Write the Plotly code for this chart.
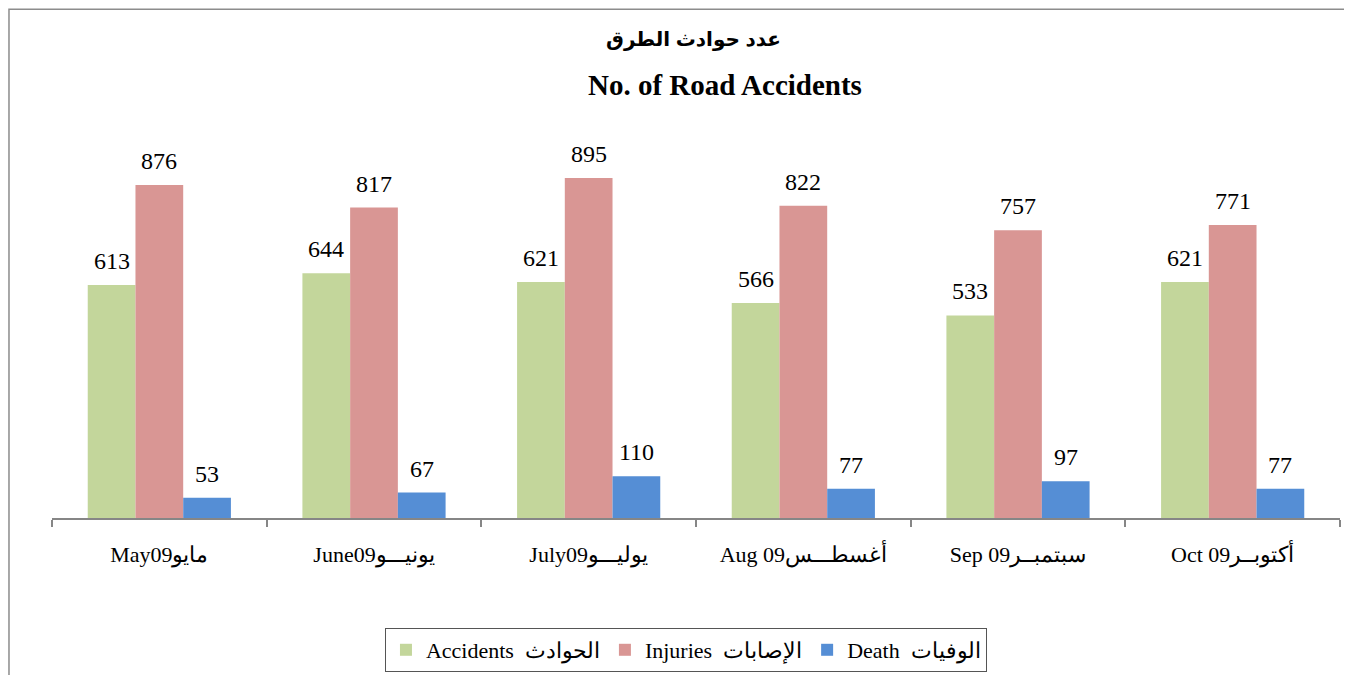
import plotly.graph_objects as go

categories = ["May09مايو", "June09يونيـــو", "July09يوليـــو",
              "Aug 09أغسطـــس", "Sep 09سبتمبــر", "Oct 09أكتوبــر"]
accidents = [613, 644, 621, 566, 533, 621]
injuries = [876, 817, 895, 822, 757, 771]
deaths = [53, 67, 110, 77, 97, 77]

series = [
    ("Accidents  الحوادث", accidents, "#C3D69B"),
    ("Injuries  الإصابات", injuries, "#D99694"),
    ("Death  الوفيات", deaths, "#558ED5"),
]

SERIF = "Liberation Serif, Times New Roman, DejaVu Serif, serif"

fig = go.Figure()
for name, vals, col in series:
    fig.add_trace(go.Bar(x=categories, y=vals, name=name, marker=dict(color=col, line=dict(width=0))))

# data labels
offsets = [-47.7, 0, 47.7]
for (name, vals, col), off in zip(series, offsets):
    for c, v in zip(categories, vals):
        fig.add_annotation(x=c, y=v, text=str(v), showarrow=False, xshift=off,
                           yanchor="bottom", yshift=9,
                           font=dict(family=SERIF, size=24, color="black"))

fig.add_annotation(xref="paper", yref="paper", x=0.4977, y=1.2579, text="<b>عدد حوادث الطرق</b>",
                   showarrow=False, xanchor="center", yanchor="middle",
                   font=dict(family="Liberation Sans, DejaVu Sans, sans-serif", size=20, color="black"))
fig.add_annotation(xref="paper", yref="paper", x=0.5225, y=1.1395, text="<b>No. of Road Accidents</b>",
                   showarrow=False, xanchor="center", yanchor="middle",
                   font=dict(family=SERIF, size=29, color="black"))

# chart border
fig.add_shape(type="rect", xref="paper", yref="paper", x0=-0.0334, x1=1.05, y0=-0.6, y1=1.339,
              line=dict(color="#8c8c8c", width=1.5), fillcolor="rgba(0,0,0,0)", layer="below")

fig.update_layout(
    width=1344, height=667,
    margin=dict(l=44, r=12, t=130, b=157),
    paper_bgcolor="white", plot_bgcolor="white",
    barmode="group", bargap=0.333, bargroupgap=0,
    showlegend=True,
    legend=dict(orientation="h", x=0.4922, y=0.0375, yref="container", xanchor="center", yanchor="middle",
                bordercolor="#555555", borderwidth=1, bgcolor="white",
                font=dict(family=SERIF, size=22, color="black"), itemwidth=30,
                traceorder="normal"),
    xaxis=dict(showline=True, linecolor="#868686", linewidth=1.5, ticks="outside",
               tickson="boundaries", ticklen=7, tickcolor="#868686", tickwidth=1.5,
               showgrid=False, ticklabelstandoff=16, automargin=False,
               tickfont=dict(family=SERIF, size=22, color="black")),
    yaxis=dict(range=[0, 1000], visible=False, showgrid=False, zeroline=False, automargin=False),
)

fig.write_html("out.html")
